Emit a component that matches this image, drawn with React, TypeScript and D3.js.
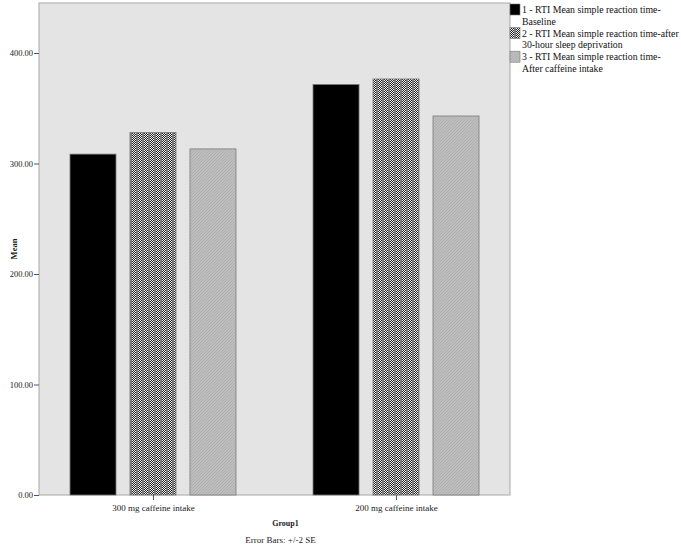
import React, { useEffect, useRef } from 'react';
import * as d3 from 'd3';

// categories on the x axis
const groups = ['300 mg caffeine intake', '200 mg caffeine intake'];
// series (legend entries, two lines each)
const seriesKeys = ['baseline', 'sleep', 'caffeine'];
const legendLines = [
  ['1 - RTI Mean simple reaction time-', 'Baseline'],
  ['2 - RTI Mean simple reaction time-after', '30-hour sleep deprivation'],
  ['3 - RTI Mean simple reaction time-', 'After caffeine intake'],
];
// mean values, one per group
const baseline = [308.5, 371.5];
const sleep = [328.0, 376.5];
const caffeine = [313.2, 343.0];
const yTicks = [0, 100, 200, 300, 400];

const App = () => {
  const svgRef = useRef<SVGSVGElement | null>(null);

  useEffect(() => {
    if (!svgRef.current) return;
    const svg = d3.select(svgRef.current);
    svg.selectAll('*').remove();

    const width = 681;
    const height = 544;
    const plot = { left: 39, right: 510, top: 3, bottom: 495 };
    const font = '"Liberation Serif", "Times New Roman", serif';

    svg.attr('width', width).attr('height', height);
    svg.append('rect').attr('width', width).attr('height', height).attr('fill', '#ffffff');

    // patterns
    const defs = svg.append('defs');
    const checker = defs.append('pattern')
      .attr('id', 'checker')
      .attr('patternUnits', 'userSpaceOnUse')
      .attr('width', 6).attr('height', 2);
    checker.append('rect').attr('width', 6).attr('height', 2).attr('fill', '#7c7c7c');
    [0, 2].forEach((cx) => {
      checker.append('rect').attr('x', cx).attr('y', 0).attr('width', 1).attr('height', 1).attr('fill', '#f4f4f4');
      checker.append('rect').attr('x', cx + 1).attr('y', 0).attr('width', 1).attr('height', 1).attr('fill', '#202020');
      checker.append('rect').attr('x', cx).attr('y', 1).attr('width', 1).attr('height', 1).attr('fill', '#202020');
      checker.append('rect').attr('x', cx + 1).attr('y', 1).attr('width', 1).attr('height', 1).attr('fill', '#f4f4f4');
    });

    const hatch = defs.append('pattern')
      .attr('id', 'hatch')
      .attr('patternUnits', 'userSpaceOnUse')
      .attr('width', 3).attr('height', 3);
    hatch.append('rect').attr('width', 3).attr('height', 3).attr('fill', '#bebebe');
    hatch.append('path').attr('d', 'M0,3 L3,0').attr('stroke', '#ababab').attr('stroke-width', 0.8);

    const fills: Record<string, string> = {
      baseline: '#000000',
      sleep: 'url(#checker)',
      caffeine: 'url(#hatch)',
    };
    const values: Record<string, number[]> = { baseline, sleep, caffeine };

    // plot background
    svg.append('rect')
      .attr('x', plot.left).attr('y', plot.top)
      .attr('width', plot.right - plot.left)
      .attr('height', plot.bottom - plot.top)
      .attr('fill', '#e4e4e4')
      .attr('stroke', '#a8a8a8')
      .attr('stroke-width', 1);

    const x0 = d3.scalePoint<string>()
      .domain(groups)
      .range([plot.left, plot.right])
      .padding(0.469);

    const x1 = d3.scaleBand<string>()
      .domain(seriesKeys)
      .range([-83, 83])
      .paddingInner(0.233)
      .paddingOuter(0);

    const y = d3.scaleLinear()
      .domain([0, 400])
      .range([plot.bottom, plot.bottom - 442]);

    // bars
    groups.forEach((g, gi) => {
      seriesKeys.forEach((k) => {
        const v = values[k][gi];
        svg.append('rect')
          .attr('x', (x0(g) as number) + (x1(k) as number))
          .attr('y', y(v))
          .attr('width', x1.bandwidth())
          .attr('height', y(0) - y(v))
          .attr('fill', fills[k])
          .attr('stroke', '#7a7a7a')
          .attr('stroke-width', 0.8);
      });
    });

    // y axis
    const yAxis = svg.append('g')
      .attr('transform', `translate(${plot.left},0)`)
      .call(d3.axisLeft(y).tickValues(yTicks).tickSize(5).tickPadding(1).tickFormat((d) => (d as number).toFixed(2)) as any);
    yAxis.select('.domain').remove();
    yAxis.selectAll('line').attr('stroke', '#555');
    yAxis.selectAll('text')
      .attr('font-family', font)
      .attr('font-size', 8.5)
      .attr('fill', '#222');

    // x axis
    const xAxis = svg.append('g')
      .attr('transform', `translate(0,${plot.bottom})`)
      .call(d3.axisBottom(x0).tickSize(5).tickPadding(5) as any);
    xAxis.select('.domain').remove();
    xAxis.selectAll('line').attr('stroke', '#555');
    xAxis.selectAll('text')
      .attr('font-family', font)
      .attr('font-size', 9)
      .attr('fill', '#222');

    // axis titles
    svg.append('text')
      .attr('transform', `translate(17,${(plot.top + plot.bottom) / 2}) rotate(-90)`)
      .attr('text-anchor', 'middle')
      .attr('font-family', font)
      .attr('font-size', 8.5)
      .attr('font-weight', 'bold')
      .attr('fill', '#222')
      .text('Mean');

    svg.append('text')
      .attr('x', (plot.left + plot.right) / 2 + 11)
      .attr('y', 526)
      .attr('text-anchor', 'middle')
      .attr('font-family', font)
      .attr('font-size', 8)
      .attr('font-weight', 'bold')
      .attr('fill', '#222')
      .text('Group1');

    svg.append('text')
      .attr('x', (plot.left + plot.right) / 2 + 6)
      .attr('y', 543)
      .attr('text-anchor', 'middle')
      .attr('font-family', font)
      .attr('font-size', 9)
      .attr('fill', '#222')
      .text('Error Bars: +/-2 SE');

    // legend
    const legend = svg.append('g').attr('transform', `translate(${plot.right},0)`);
    seriesKeys.forEach((k, i) => {
      const y0 = 4 + i * 23.6;
      legend.append('rect')
        .attr('x', 0).attr('y', y0)
        .attr('width', 10).attr('height', 11)
        .attr('fill', fills[k])
        .attr('stroke', '#7a7a7a')
        .attr('stroke-width', 0.6);
      legendLines[i].forEach((line, li) => {
        legend.append('text')
          .attr('x', 12)
          .attr('y', y0 + 9 + li * 11.6)
          .attr('font-family', font)
          .attr('font-size', 9.8)
          .attr('fill', '#111')
          .text(line);
      });
    });
  }, []);

  return (
    <svg ref={svgRef} style={{ position: 'absolute', left: 0, top: 0, display: 'block' }} />
  );
};

export default App;
